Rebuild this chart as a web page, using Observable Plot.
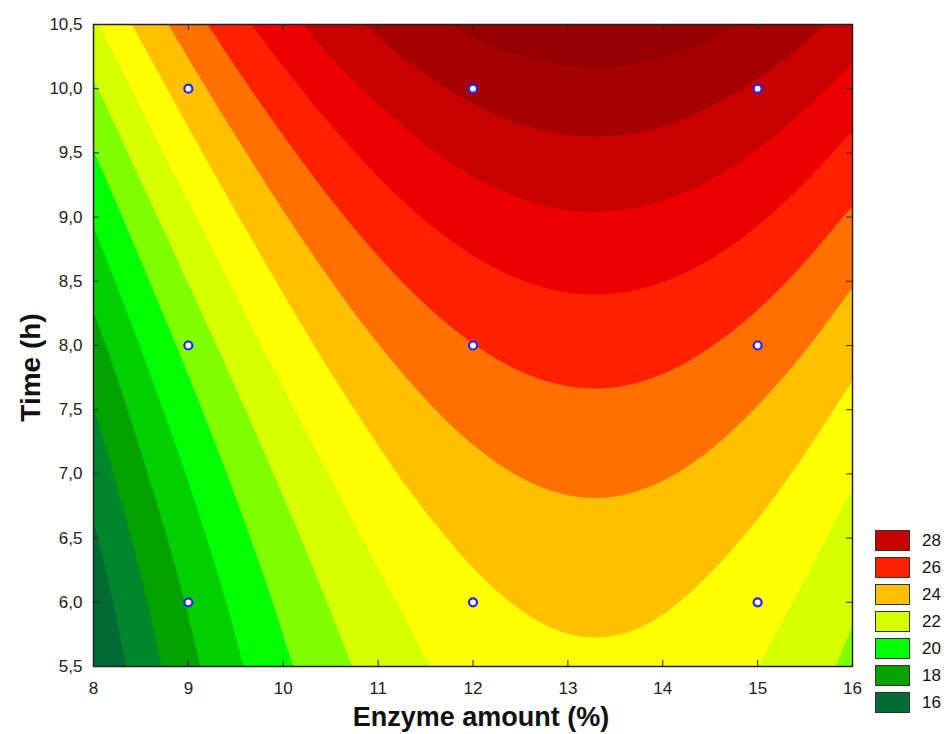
<!DOCTYPE html>
<html>
<head>
<meta charset="utf-8">
<script src="https://cdn.jsdelivr.net/npm/d3@7"></script>
<script src="https://cdn.jsdelivr.net/npm/@observablehq/plot@0.6"></script>
<style>
  html, body { margin: 0; padding: 0; background: #ffffff; }
  #wrap { position: relative; width: 946px; height: 734px; font-family: "Liberation Sans", Arial, sans-serif; }
  #legend { position: absolute; left: 875px; top: 530px; }
  .row { position: relative; height: 27px; }
  .sw { position: absolute; left: 0; top: 0; width: 35px; height: 21px; box-sizing: border-box; border: 1px solid #333; }
  .lb { position: absolute; left: 47px; top: 0; line-height: 21px; font-size: 17px; color: #111; }
</style>
</head>
<body>
<div id="wrap"><div id="legend"></div></div>
<script>
const enzymeGrid = [8, 8.5, 9, 9.5, 10, 10.5, 11, 11.5, 12, 12.5, 13, 13.5, 14, 14.5, 15, 15.5, 16];
const timeGrid = [5.5, 6, 6.5, 7, 7.5, 8, 8.5, 9, 9.5, 10, 10.5];

// Response values along each time level (columns follow enzymeGrid)
const t5_5  = [15.02, 16.43, 17.70, 18.82, 19.81, 20.66, 21.37, 21.94, 22.37, 22.65, 22.80, 22.81, 22.68, 22.41, 22.00, 21.44, 20.75];
const t6_0  = [15.41, 16.82, 18.09, 19.22, 20.21, 21.06, 21.76, 22.33, 22.76, 23.05, 23.20, 23.21, 23.08, 22.80, 22.39, 21.84, 21.15];
const t6_5  = [15.87, 17.28, 18.55, 19.68, 20.67, 21.52, 22.22, 22.79, 23.22, 23.51, 23.66, 23.67, 23.53, 23.26, 22.85, 22.30, 21.61];
const t7_0  = [16.40, 17.81, 19.07, 20.20, 21.19, 22.04, 22.75, 23.32, 23.74, 24.03, 24.18, 24.19, 24.06, 23.79, 23.38, 22.82, 22.13];
const t7_5  = [16.98, 18.39, 19.66, 20.79, 21.78, 22.63, 23.33, 23.90, 24.33, 24.62, 24.77, 24.78, 24.64, 24.37, 23.96, 23.41, 22.72];
const t8_0  = [17.63, 19.04, 20.31, 21.44, 22.43, 23.28, 23.98, 24.55, 24.98, 25.27, 25.42, 25.43, 25.30, 25.02, 24.61, 24.06, 23.37];
const t8_5  = [18.35, 19.76, 21.03, 22.15, 23.14, 23.99, 24.70, 25.27, 25.70, 25.98, 26.13, 26.14, 26.01, 25.74, 25.33, 24.77, 24.08];
const t9_0  = [19.13, 20.54, 21.80, 22.93, 23.92, 24.77, 25.48, 26.05, 26.47, 26.76, 26.91, 26.92, 26.79, 26.52, 26.11, 25.55, 24.86];
const t9_5  = [19.97, 21.38, 22.65, 23.77, 24.76, 25.61, 26.32, 26.89, 27.32, 27.60, 27.75, 27.76, 27.63, 27.36, 26.95, 26.39, 25.70];
const t10_0 = [20.87, 22.28, 23.55, 24.68, 25.67, 26.52, 27.22, 27.79, 28.22, 28.51, 28.66, 28.67, 28.54, 28.26, 27.85, 27.30, 26.61];
const t10_5 = [21.84, 23.25, 24.52, 25.65, 26.64, 27.49, 28.19, 28.76, 29.19, 29.48, 29.63, 29.64, 29.50, 29.23, 28.82, 28.27, 27.58];

// Contour levels and band colours (lowest band first)
const levels = [16, 17, 18, 19, 20, 21, 22, 23, 24, 25, 26, 27, 28, 29];
const bandColors = ["#006b35", "#00862c", "#00a300", "#00cf00", "#00ff00", "#80ff00", "#d6ff00", "#ffff00",
                    "#ffc000", "#ff7000", "#ff2000", "#ee0000", "#c80000", "#a60000", "#960000"];

// Legend entries
const legendLabels = [28, 26, 24, 22, 20, 18, 16];

// Experimental design points
const designEnzyme = [9, 12, 15];
const designTime = [6, 8, 10];

// Axis ticks and titles
const xTicks = [8, 9, 10, 11, 12, 13, 14, 15, 16];
const yTicks = [5.5, 6, 6.5, 7, 7.5, 8, 8.5, 9, 9.5, 10, 10.5];
const xTitle = "Enzyme amount (%)";
const yTitle = "Time (h)";

// ---- build ----
const rows = [t5_5, t6_0, t6_5, t7_0, t7_5, t8_0, t8_5, t9_0, t9_5, t10_0, t10_5];
const nx = enzymeGrid.length, ny = timeGrid.length;
const gridPoints = rows.flatMap((row, r) => row.map((z, c) => ({enzyme: enzymeGrid[c], time: timeGrid[r], z})));
const points = designTime.flatMap(t => designEnzyme.map(e => ({enzyme: e, time: t})));

// smooth (Catmull-Rom) rendering of the gridded surface for the contour raster
function cr(p0, p1, p2, p3, t) {
  return p1 + 0.5 * t * (p2 - p0 + t * (2 * p0 - 5 * p1 + 4 * p2 - p3 + t * (3 * (p1 - p2) + p3 - p0)));
}
function smoothGrid(index, width, height, X, Y, V) {
  const G = (c, r) => {
    if (c < 0) return 2 * G(0, r) - G(1, r);
    if (c > nx - 1) return 2 * G(nx - 1, r) - G(nx - 2, r);
    if (r < 0) return 2 * G(c, 0) - G(c, 1);
    if (r > ny - 1) return 2 * G(c, ny - 1) - G(c, ny - 2);
    return +V[r * nx + c];
  };
  const ox = X[0], sx = X[1] - X[0], oy = Y[0], sy = Y[nx] - Y[0];
  const F = new Float64Array(width * height);
  for (let j = 0; j < height; ++j) {
    let w = (j + 0.5 - oy) / sy;
    w = Math.max(0, Math.min(ny - 1, w));
    const r = Math.min(Math.floor(w), ny - 2), tr = w - r;
    for (let i = 0; i < width; ++i) {
      let u = (i + 0.5 - ox) / sx;
      u = Math.max(0, Math.min(nx - 1, u));
      const c = Math.min(Math.floor(u), nx - 2), tc = u - c;
      const a = cr(G(c - 1, r - 1), G(c, r - 1), G(c + 1, r - 1), G(c + 2, r - 1), tc);
      const b = cr(G(c - 1, r), G(c, r), G(c + 1, r), G(c + 2, r), tc);
      const d = cr(G(c - 1, r + 1), G(c, r + 1), G(c + 1, r + 1), G(c + 2, r + 1), tc);
      const e = cr(G(c - 1, r + 2), G(c, r + 2), G(c + 1, r + 2), G(c + 2, r + 2), tc);
      F[j * width + i] = cr(a, b, d, e, tr);
    }
  }
  return F;
}

const W = 946, H = 734;
const mL = 93, mR = 94, mT = 24, mB = 68;
const pw = W - mL - mR, ph = H - mT - mB;
const comma = d => d.toFixed(1).replace(".", ",");
const tickLen = 6;

const chart = Plot.plot({
  width: W, height: H,
  marginLeft: mL, marginRight: mR, marginTop: mT, marginBottom: mB,
  style: {fontFamily: '"Liberation Sans", Arial, sans-serif', background: "transparent", overflow: "visible"},
  x: {domain: [xTicks[0], xTicks[xTicks.length - 1]]},
  y: {domain: [yTicks[0], yTicks[yTicks.length - 1]]},
  color: {type: "threshold", domain: levels, range: bandColors},
  marks: [
    Plot.contour(gridPoints, {
      x: "enzyme", y: "time", fill: "z",
      interpolate: smoothGrid, pixelSize: 1,
      thresholds: [0, ...levels], stroke: "none", clip: true
    }),
    Plot.dot(points, {x: "enzyme", y: "time", r: 4, fill: "white", stroke: "#2424ff", strokeWidth: 2.2}),
    Plot.tickX(xTicks, {x: d => d, insetTop: ph - tickLen, stroke: "#222"}),
    Plot.tickX(xTicks, {x: d => d, insetBottom: ph - tickLen, stroke: "#222"}),
    Plot.tickY(yTicks, {y: d => d, insetRight: pw - tickLen, stroke: "#222"}),
    Plot.tickY(yTicks, {y: d => d, insetLeft: pw - tickLen, stroke: "#222"}),
    Plot.frame({stroke: "#222", strokeWidth: 1.5}),
    Plot.axisX({ticks: xTicks, tickSize: 0, tickPadding: 15, fontSize: 17, label: null, fill: "#222"}),
    Plot.axisY({ticks: yTicks, tickSize: 0, tickPadding: 11, fontSize: 17, label: null, tickFormat: comma, fill: "#222"}),
    Plot.text([xTitle], {text: d => d, frameAnchor: "bottom", textAnchor: "middle", lineAnchor: "middle",
                         dx: 8, dy: 51, fontSize: 27, fontWeight: "bold", fill: "#111"}),
    Plot.text([yTitle], {text: d => d, frameAnchor: "left", textAnchor: "middle", lineAnchor: "middle",
                         dx: -62, dy: 22, rotate: -90, fontSize: 28, fontWeight: "bold", fill: "#111"})
  ]
});
document.getElementById("wrap").prepend(chart);

// legend (colours of the labelled bands)
const legend = document.getElementById("legend");
legendLabels.forEach(v => {
  const idx = levels.indexOf(v); // band ending at v
  const row = document.createElement("div");
  row.className = "row";
  const sw = document.createElement("div");
  sw.className = "sw";
  sw.style.background = bandColors[idx];
  const lb = document.createElement("div");
  lb.className = "lb";
  lb.textContent = v;
  row.appendChild(sw); row.appendChild(lb);
  legend.appendChild(row);
});
</script>
</body>
</html>
